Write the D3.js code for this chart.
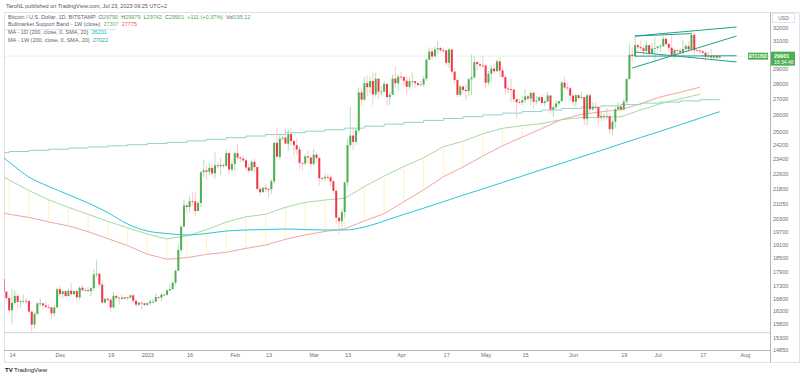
<!DOCTYPE html>
<html>
<head>
<meta charset="utf-8">
<script src="https://cdn.jsdelivr.net/npm/d3@7"></script>
<style>
  body { margin: 0; background: #fff; }
  svg { display: block; font-family: "Liberation Sans", Arial, sans-serif; }
</style>
</head>
<body>
<div id="chart"></div>
<script>
// daily candles, one small array per month: [open, high, low, close]
var nov22 = [ // from Nov 9
  [18540,18590,15590,15880],[15880,18150,15800,17590],[17590,17650,16360,17070],[17070,17090,16760,16810],
  [16810,16920,16230,16330],[16330,17190,15820,16620],[16620,17130,16550,16900],[16900,16990,16400,16660],
  [16660,16750,16420,16690],[16690,16950,16610,16700],[16700,16810,16560,16690],[16690,16750,16200,16280],
  [16280,16290,15480,15780],[15780,16270,15630,16190],[16190,16650,16160,16600],[16600,16800,16460,16600],
  [16600,16610,16360,16520],[16520,16690,16410,16460],[16460,16590,16400,16440],[16440,16480,16000,16210],
  [16210,16530,16100,16440],[16440,17240,16430,17170]
];
var dec22 = [
  [17170,17320,16860,16970],[16970,17100,16790,17090],[17090,17150,16870,16890],[16890,17200,16880,17110],
  [17110,17420,16870,16970],[16970,17110,16910,17090],[17090,17140,16690,16840],[16840,17290,16740,17230],
  [17230,17350,17070,17130],[17130,17220,17090,17130],[17130,17270,17070,17090],[17090,17240,16870,17210],
  [17210,18000,17090,17780],[17780,18390,17660,17810],[17810,17850,17280,17360],[17360,17530,16580,16630],
  [16630,16800,16590,16780],[16780,16860,16690,16740],[16740,16820,16280,16440],[16440,17060,16400,16900],
  [16900,16910,16730,16820],[16820,16860,16560,16830],[16830,16950,16760,16780],[16780,16870,16770,16840],
  [16840,16860,16730,16830],[16830,16940,16780,16920],[16920,16960,16610,16700],[16700,16780,16480,16550],
  [16550,16660,16490,16630],[16630,16640,16340,16600],[16600,16640,16490,16540]
];
var jan23 = [
  [16540,16630,16490,16610],[16610,16760,16550,16670],[16670,16770,16600,16670],[16670,17000,16660,16850],
  [16850,16880,16750,16830],[16830,17020,16680,16950],[16950,16970,16900,16940],[16940,17180,16910,17120],
  [17120,17390,17110,17180],[17180,17480,17150,17440],[17440,17990,17320,17940],[17940,19100,17920,18850],
  [18850,19970,18730,19930],[19930,21260,19890,20960],[20960,21050,20550,20880],[20880,21450,20620,21170],
  [21170,21650,20920,21160],[21160,21620,20400,20680],[20680,21190,20670,21080],[21080,22750,20880,22680],
  [22680,23370,22420,22780],[22780,23080,22300,22710],[22710,23170,22530,22920],[22920,23120,22460,22620],
  [22620,23780,22330,23060],[23060,23280,22880,23010],[23010,23480,22540,23080],[23080,23160,22880,23030],
  [23030,23950,23000,23740],[23740,23800,22560,22830],[22830,23300,22720,23130]
];
var feb23 = [
  [23130,23790,22770,23730],[23730,24250,23370,23490],[23490,23590,23210,23430],[23430,23590,23260,23330],
  [23330,23440,22760,22940],[22940,23150,22630,22760],[22760,23350,22740,23250],[23250,23450,22680,22960],
  [22960,23010,21700,21800],[21800,21920,21460,21630],[21630,21890,21610,21860],[21860,22070,21640,21790],
  [21790,21890,21360,21780],[21780,22320,21540,22200],[22200,24380,22050,24330],[24330,25250,23530,23530],
  [23530,24870,23370,24570],[24570,24730,24450,24630],[24630,25180,24250,24280],[24280,25120,23880,24840],
  [24840,25250,24160,24440],[24440,24480,23590,24190],[24190,24590,23640,23950],[23950,24130,22860,23190],
  [23190,23210,22750,23160],[23160,23670,23060,23560],[23560,23880,23110,23490],[23490,23600,23030,23140]
];
var mar23 = [
  [23140,23970,23030,23650],[23650,23780,23220,23470],[23470,23480,21990,22360],[22360,22410,22180,22350],
  [22350,22620,22210,22430],[22430,22580,22260,22410],[22410,22540,21930,22200],[22200,22270,21580,21700],
  [21700,21800,20060,20360],[20360,20370,19570,20190],[20190,20800,19900,20630],[20630,22170,20380,22140],
  [22140,24550,21920,24200],[24200,26520,24060,24750],[24750,25230,23930,24380],[24380,25200,24210,25050],
  [25050,27760,24900,27430],[27430,27720,26590,26960],[26960,28460,26880,28040],[28040,28530,27170,27770],
  [27770,28490,27350,28180],[28180,28800,26620,27300],[27300,28740,27140,28340],[28340,28380,27030,27480],
  [27480,27820,27170,27480],[27480,28190,27440,27990],[27990,28030,26550,27130],[27130,27500,26640,27270],
  [27270,28640,27250,28350],[28350,29170,27700,28030],[28030,28650,27540,28480]
];
var apr23 = [
  [28480,28820,28230,28450],[28450,28530,27870,28200],[28200,28490,27280,27800],[27800,28440,27660,28170],
  [28170,28760,27830,28170],[28170,28180,27730,28040],[28040,28100,27780,27920],[27920,28170,27880,27950],
  [27950,28530,27800,28330],[28330,29770,28180,29650],[29650,30550,29600,30230],[30230,30480,29700,29880],
  [29880,30590,29880,30390],[30390,31000,29990,30480],[30480,30610,30230,30320],[30320,30540,30140,30310],
  [30310,30320,29260,29430],[29430,30480,29100,30380],[30380,30400,28600,28820],[28820,29080,28010,28250],
  [28250,28370,27130,27270],[27270,27880,27140,27820],[27820,27820,27360,27590],[27590,28000,26940,27520],
  [27520,28380,27200,28300],[28300,30020,27240,28420],[28420,29890,28380,29480],[29480,29570,28890,29340],
  [29340,29450,29070,29250],[29250,29960,29110,29230]
];
var may23 = [
  [29230,29330,27680,28070],[28070,28880,27880,28680],[28680,29270,28130,29030],[29030,29380,28700,28850],
  [28850,29680,28810,29530],[29530,29830,28400,28900],[28900,29170,28410,28450],[28450,28620,27300,27690],
  [27690,27830,27380,27650],[27650,28320,26780,27620],[27620,27630,26770,26990],[26990,27040,25820,26800],
  [26800,27030,26710,26780],[26780,27190,26600,26930],[26930,27650,26750,27170],[27170,27260,26880,27030],
  [27030,27480,26600,27400],[27400,27470,26420,26830],[26830,27180,26650,26890],[26890,27150,26830,27120],
  [27120,27270,26660,26750],[26750,26960,26560,26850],[26850,27490,26800,27230],[27230,27240,26100,26330],
  [26330,26640,25880,26480],[26480,26930,26350,26720],[26720,26880,26570,26870],[26870,28200,26800,28080],
  [28080,28460,27560,27750],[27750,28050,27560,27700],[27700,27830,26860,27220]
];
var jun23 = [
  [27220,27350,26610,26820],[26820,27300,26510,27250],[27250,27320,26950,27070],[27070,27450,26970,27120],
  [27120,27140,25390,25760],[25760,27360,25380,27240],[27240,27380,26150,26350],[26350,26810,26250,26500],
  [26500,26790,26310,26480],[26480,26530,25410,25850],[25850,26200,25640,25940],[25940,26090,25640,25900],
  [25900,26430,25720,25920],[25920,26100,24820,25130],[25130,25750,24780,25580],[25580,26480,25180,26340],
  [26340,26780,26290,26510],[26510,26690,26290,26340],[26340,27030,26260,26840],[26840,28400,26650,28310],
  [28310,30800,28270,30010],[30010,30500,29570,29900],[29900,31420,29820,30690],[30690,30800,30270,30550],
  [30550,31050,30310,30470],[30470,30670,29940,30270],[30270,31000,30220,30690],[30690,30710,29880,30080],
  [30080,30830,30040,30450],[30450,31260,29520,30480]
];
var jul23 = [
  [30480,30650,30340,30590],[30590,30790,30200,30620],[30620,31390,30570,31160],[31160,31320,30640,30770],
  [30770,30880,30230,30510],[30510,31500,29860,29900],[29900,30450,29720,30350],[30350,30380,30050,30290],
  [30290,30440,30080,30170],[30170,31060,29960,30420],[30420,30800,30290,30620],[30620,30980,30220,30390],
  [30390,31820,30260,31460],[31460,31630,29960,30330],[30330,30390,30250,30300],[30300,30440,30070,30250],
  [30250,30330,29670,30150],[30150,30230,29530,29860],[29860,30200,29770,29910],[29910,30420,29590,29800],
  [29800,30050,29720,29910],[29910,29990,29650,29790],[29790,29979,29742,29901]
];
var monthStarts = ["2022-11-09","2022-12-01","2023-01-01","2023-02-01","2023-03-01","2023-04-01","2023-05-01","2023-06-01","2023-07-01"];
var months = [nov22, dec22, jan23, feb23, mar23, apr23, may23, jun23, jul23];

// weekly points (Sundays from Nov 6, 2022)
var weekStart = "2022-11-06";
var bandSma = [20756,20521,20370,20150,19966,19691,19363,19046,18662,18441,18508,18652,18747,18923,19073,19334,19541,19699,19828,
  20198,20553,21146,21749,22442,22966,23573,24159,24664,25171,25719,26031,26192,26322,26699,27140,27435,27775];
var bandEma = [22857,22264,21720,21240,20864,20521,20177,19873,19576,19353,19492,19784,20144,20398,20525,20866,21111,21231,21314,
  21925,22476,22996,23481,24102,24419,24856,25183,25342,25470,25707,25836,25845,25890,26306,26698,27014,27307];
var ma200w = [23765,23830,23895,23960,24025,24090,24155,24220,24285,24350,24440,24535,24630,24725,24815,24915,25010,25100,25190,
  25310,25430,25545,25660,25780,25890,26000,26110,26205,26300,26405,26490,26565,26645,26740,26800,26880,26955,27022];
var ma200d = [24100,23240,22420,21930,21505,21080,20603,20051,19720,19605,19533,19605,19720,19768,19790,19815,19790,19768,19768,
  19909,20195,20517,20823,21145,21475,21800,22134,22478,22829,23173,23532,23892,24265,24636,25008,25398,25795,26201];

// drawings: [date1, price1, date2, price2]
var trendLines = [
  ["2023-06-23",31370,"2023-07-29",32050],
  ["2023-06-23",31370,"2023-07-13",31550],
  ["2023-06-22",29070,"2023-07-29",31370],
  ["2023-06-23",30200,"2023-07-29",29490],
  ["2023-06-23",29900,"2023-07-29",29930]
];
var supportLevel = 15480;

var priceTicks = [32000,31000,30000,29000,28000,27000,26000,25000,24200,23400,22600,21800,21050,20300,19700,19100,18500,17900,17300,16800,16300,15800,15300,14850];
var timeTicks = ["2022-11-14","2022-12-01","2022-12-19","2023-01-01","2023-01-16","2023-02-01","2023-02-13","2023-03-01","2023-03-13","2023-04-01","2023-04-17","2023-05-01","2023-05-15","2023-06-01","2023-06-19","2023-07-01","2023-07-17","2023-08-01"];
var timeLabels = ["14","Dec","19","2023","16","Feb","13","Mar","13","Apr","17","May","15","Jun","19","Jul","17","Aug"];

var upColor = "#4caf50", downColor = "#f23645";
var parse = d3.utcParse("%Y-%m-%d");

var candles = [];
months.forEach(function(m, mi) {
  var d0 = parse(monthStarts[mi]);
  m.forEach(function(r, i) {
    candles.push({date: d3.utcDay.offset(d0, i), o: r[0], h: r[1], l: r[2], c: r[3]});
  });
});
var w0 = parse(weekStart);
function weekly(arr) {
  return arr.map(function(v, i) { return {date: d3.utcWeek.offset(w0, i), v: v}; });
}

var W = 800, H = 378;
var pane = {left: 4, right: 770, top: 12, bottom: 350};

var x = d3.scaleUtc().domain([parse("2022-11-14"), parse("2023-08-01")]).range([12, 745]);
var y = d3.scaleLog().domain([33216, 14856]).range([pane.top, pane.bottom]);

var svg = d3.select("#chart").append("svg").attr("width", W).attr("height", H);

svg.append("clipPath").attr("id", "clip").append("rect")
  .attr("x", pane.left).attr("y", pane.top).attr("width", pane.right - pane.left).attr("height", pane.bottom - pane.top);
// in the axis group's own coordinates (it is translated to pane.right)
svg.append("clipPath").attr("id", "clipAxis").append("rect")
  .attr("x", 0).attr("y", pane.top + 11).attr("width", W - pane.right).attr("height", pane.bottom - pane.top - 8);

// frame
svg.append("rect").attr("x", pane.left + 0.5).attr("y", pane.top + 0.5)
  .attr("width", W - pane.left - 1).attr("height", 362 - pane.top)
  .attr("fill", "none").attr("stroke", "#e0e3eb");
svg.append("line").attr("x1", pane.right + 0.5).attr("x2", pane.right + 0.5).attr("y1", pane.top).attr("y2", 362)
  .attr("stroke", "#b2b5be");
svg.append("line").attr("x1", pane.left).attr("x2", pane.right + 1).attr("y1", pane.bottom + 0.5).attr("y2", pane.bottom + 0.5)
  .attr("stroke", "#b2b5be");

var plot = svg.append("g").attr("clip-path", "url(#clip)");

// support line at the low
plot.append("line").attr("x1", pane.left).attr("x2", pane.right)
  .attr("y1", y(supportLevel)).attr("y2", y(supportLevel))
  .attr("stroke", "#d1d4dc").attr("stroke-width", 1);

// last price line
var last = candles[candles.length - 1];
plot.append("line").attr("x1", pane.left).attr("x2", pane.right)
  .attr("y1", y(last.c)).attr("y2", y(last.c))
  .attr("stroke", "#4caf50").attr("stroke-opacity", 0.3).attr("stroke-dasharray", "1,1");

// bull market support band
var sma = weekly(bandSma), ema = weekly(bandEma);
plot.selectAll("line.band").data(sma).enter().append("line")
  .attr("x1", function(d) { return x(d.date); })
  .attr("x2", function(d) { return x(d.date); })
  .attr("y1", function(d) { return y(d.v); })
  .attr("y2", function(d, i) { return y(ema[i].v); })
  .attr("stroke", "#fcf4bf").attr("stroke-width", 1);

var line = d3.line().x(function(d) { return x(d.date); }).y(function(d) { return y(d.v); });
plot.append("path").datum(sma).attr("d", line).attr("fill", "none").attr("stroke", "#f5a3a3").attr("stroke-width", 1);
plot.append("path").datum(ema).attr("d", line).attr("fill", "none").attr("stroke", "#a8d8a3").attr("stroke-width", 1);

// moving averages
var step = d3.line().curve(d3.curveStepAfter).x(function(d) { return x(d.date); }).y(function(d) { return y(d.v); });
plot.append("path").datum(weekly(ma200w)).attr("d", step).attr("fill", "none").attr("stroke", "#8fd4c8").attr("stroke-width", 1);
var smooth = d3.line().curve(d3.curveMonotoneX).x(function(d) { return x(d.date); }).y(function(d) { return y(d.v); });
plot.append("path").datum(weekly(ma200d)).attr("d", smooth).attr("fill", "none").attr("stroke", "#26c6da").attr("stroke-width", 1);

// candles
var cw = 2;
plot.selectAll("line.wick").data(candles).enter().append("line")
  .attr("x1", function(d) { return x(d.date); })
  .attr("x2", function(d) { return x(d.date); })
  .attr("y1", function(d) { return y(d.h); })
  .attr("y2", function(d) { return y(d.l); })
  .attr("stroke", function(d) { return d.c >= d.o ? "#a5d6a7" : "#f8bbc0"; })
  .attr("stroke-width", 0.8);
plot.selectAll("rect.body").data(candles).enter().append("rect")
  .attr("x", function(d) { return x(d.date) - cw / 2; })
  .attr("width", cw)
  .attr("y", function(d) { return y(Math.max(d.o, d.c)); })
  .attr("height", function(d) { return Math.max(0.8, Math.abs(y(d.o) - y(d.c))); })
  .attr("fill", function(d) { return d.c >= d.o ? upColor : downColor; });

// drawings
plot.selectAll("line.trend").data(trendLines).enter().append("line")
  .attr("x1", function(d) { return x(parse(d[0])); })
  .attr("y1", function(d) { return y(d[1]); })
  .attr("x2", function(d) { return x(parse(d[2])); })
  .attr("y2", function(d) { return y(d[3]); })
  .attr("stroke", "#22a08b").attr("stroke-width", 1);

// price axis
var yAxis = d3.axisRight(y).tickValues(priceTicks).tickSize(0).tickPadding(3)
  .tickFormat(function(d) { return String(d); });
var ya = svg.append("g").attr("transform", "translate(" + pane.right + ",0)").attr("clip-path", "url(#clipAxis)")
  .call(yAxis);
ya.select(".domain").remove();
ya.selectAll("text").attr("font-size", 5.5).attr("fill", "#6a6d78").attr("font-family", "Liberation Sans, Arial, sans-serif");

// time axis
var xAxis = d3.axisBottom(x).tickValues(timeTicks.map(parse)).tickSize(0).tickPadding(3)
  .tickFormat(function(d, i) { return timeLabels[i]; });
var xa = svg.append("g").attr("transform", "translate(0," + pane.bottom + ")").call(xAxis);
xa.select(".domain").remove();
xa.selectAll("text").attr("font-size", 5.5).attr("fill", "#6a6d78").attr("font-family", "Liberation Sans, Arial, sans-serif");

// symbol and last price labels
svg.append("rect").attr("x", 748).attr("y", y(last.c) - 3.5).attr("width", 20).attr("height", 7).attr("fill", upColor);
svg.append("text").attr("x", 758).attr("y", y(last.c) + 0.3).attr("text-anchor", "middle").attr("dominant-baseline", "middle")
  .attr("font-size", 4.5).attr("font-weight", "bold").attr("fill", "#fff").text("BTCUSD");
svg.append("rect").attr("x", pane.right + 1).attr("y", y(last.c) - 4.5).attr("width", 24).attr("height", 14).attr("fill", upColor);
svg.append("text").attr("x", pane.right + 4).attr("y", y(last.c)).attr("dominant-baseline", "middle")
  .attr("font-size", 5.5).attr("font-weight", "bold").attr("fill", "#fff").text(String(last.c));
svg.append("text").attr("x", pane.right + 4).attr("y", y(last.c) + 6.5).attr("dominant-baseline", "middle")
  .attr("font-size", 5).attr("fill", "#fff").text("16:34:48");

svg.append("rect").attr("x", 772.5).attr("y", 13.5).attr("width", 22).attr("height", 9)
  .attr("fill", "#fff").attr("stroke", "#e0e3eb");
svg.append("text").attr("x", 783.5).attr("y", 18.3).attr("text-anchor", "middle").attr("dominant-baseline", "middle")
  .attr("font-size", 5).attr("fill", "#6a6d78").text("USD");

// header
svg.append("text").attr("x", 6).attr("y", 6.5).attr("dominant-baseline", "middle")
  .attr("font-size", 5.5).attr("fill", "#555").text("TaroNL published on TradingView.com, Jul 23, 2023 09:25 UTC+2");

// legend
var gray = "#5d606b", green = "#4caf50";
var chg = last.c - last.o;
var rows = [
  [["Bitcoin / U.S. Dollar, 1D, BITSTAMP  O", gray], [String(last.o), green], ["  H", gray], [String(last.h), green],
   ["  L", gray], [String(last.l), green], ["  C", gray], [String(last.c), green],
   ["  +" + chg + " (+" + (chg / last.o * 100).toFixed(2) + "%)", green], ["  Vol", gray], ["195.12", green]],
  [["Bullmarket Support Band - 1W (close)  ", gray], [String(bandEma[bandEma.length - 1]), "#66bb6a"], ["  " + bandSma[bandSma.length - 1], "#ef5350"]],
  [["MA - 1D (200, close, 0, SMA, 20)  ", gray], [String(ma200d[ma200d.length - 1]), "#00bcd4"]],
  [["MA - 1W (200, close, 0, SMA, 20)  ", gray], [String(ma200w[ma200w.length - 1]), "#26a69a"]]
];
svg.append("line").attr("x1", pane.left).attr("x2", 116).attr("y1", 29.5).attr("y2", 29.5).attr("stroke", "#e0e3eb");
rows.forEach(function(r, i) {
  var t = svg.append("text").attr("x", 8).attr("y", 17.5 + i * 7.8).attr("dominant-baseline", "middle")
    .attr("font-size", 5.5).attr("xml:space", "preserve");
  r.forEach(function(p) { t.append("tspan").attr("fill", p[1]).text(p[0]); });
});

// footer logo
svg.append("text").attr("x", 5).attr("y", 370.5).attr("dominant-baseline", "middle")
  .attr("font-size", 6).attr("font-weight", "bold").attr("fill", "#131722").text("TV");
svg.append("text").attr("x", 14).attr("y", 370.5).attr("dominant-baseline", "middle")
  .attr("font-size", 6).attr("fill", "#131722").text("TradingView");
</script>
</body>
</html>
